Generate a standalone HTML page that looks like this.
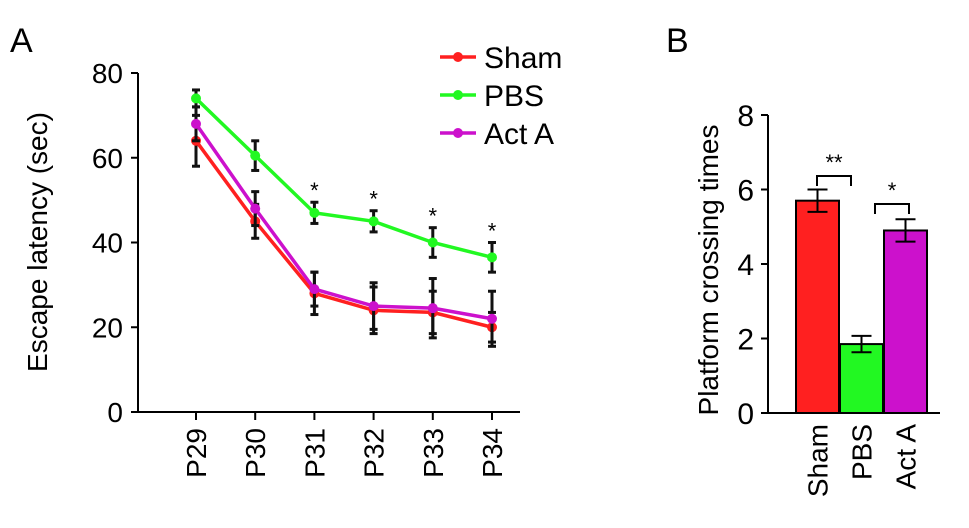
<!DOCTYPE html>
<html><head><meta charset="utf-8"><style>
body{margin:0;background:#fff;}
svg{display:block;font-family:"Liberation Sans",Arial,sans-serif;}
</style></head><body>
<svg id="c" width="969" height="528" viewBox="0 0 969 528">
<text x="10" y="52" font-size="34">A</text>
<text x="666" y="52" font-size="34">B</text>
<g id="ga"></g>
<g id="gb"></g>
</svg>
<script>
const days=["P29","P30","P31","P32","P33","P34"];
const sham=[64,45,28,24,23.5,20];
const shamErr=[6,4,5,5.5,5,3.5];
const pbs=[74,60.5,47,45,40,36.5];
const pbsErr=[2,3.5,2.5,2.5,3.5,3.5];
const act=[68,48,29,25,24.5,22];
const actErr=[4,4,4,5.5,7,6.5];
const yTicksA=[0,20,40,60,80];
const sigA=["","","*","*","*","*"];
const groups=["Sham","PBS","Act A"];
const crossing=[5.7,1.85,4.9];
const crossingErr=[0.3,0.22,0.3];
const yTicksB=[0,2,4,6,8];
const colors=["#ff2020","#22f822","#cc11cc"];
const NS="http://www.w3.org/2000/svg";
function mk(p,t,a,txt){const e=document.createElementNS(NS,t);for(const k in a)e.setAttribute(k,a[k]);if(txt!==undefined)e.textContent=txt;p.appendChild(e);return e;}
const ga=document.getElementById('ga');
const ya=v=>412-v*(339/80);
const xa=i=>196+i*59.2;
let e;
e=mk(ga,'line',{x1:138,y1:73,x2:138,y2:412,stroke:'#000','stroke-width':2});


e=mk(ga,'line',{x1:137,y1:412,x2:520,y2:412,stroke:'#000','stroke-width':2});


yTicksA.forEach(v=>{mk(ga,'line',{x1:131,y1:ya(v),x2:138,y2:ya(v),stroke:'#000','stroke-width':2});
e=mk(ga,'text',{x:123,y:ya(v)+10,'font-size':28,'text-anchor':'end'},v);

});
days.forEach((d,i)=>{mk(ga,'line',{x1:xa(i),y1:412,x2:xa(i),y2:420,stroke:'#000','stroke-width':2});
e=mk(ga,'text',{x:0,y:0,'font-size':28,'text-anchor':'end',transform:`translate(${xa(i)+10},428) rotate(-90)`},d);


if(sigA[i]){e=mk(ga,'text',{x:xa(i),y:ya(pbs[i]+pbsErr[i])-4,'font-size':22,'text-anchor':'middle'},sigA[i]);

}});
e=mk(ga,'text',{x:0,y:0,'font-size':28,'text-anchor':'middle',transform:'translate(47,242) rotate(-90)'},'Escape latency (sec)');


const series=[[sham,shamErr,"Sham"],[pbs,pbsErr,"PBS"],[act,actErr,"Act A"]];
series.forEach(([vals,errs,name],s)=>{
 const g=mk(ga,'g',{});
 
 
 mk(g,'polyline',{points:vals.map((v,i)=>xa(i)+','+ya(v)).join(' '),fill:'none',stroke:colors[s],'stroke-width':3.5});
 vals.forEach((v,i)=>{const x=xa(i);
  mk(g,'line',{x1:x,y1:ya(v-errs[i]),x2:x,y2:ya(v+errs[i]),stroke:'#111','stroke-width':3});
  mk(g,'line',{x1:x-4,y1:ya(v-errs[i]),x2:x+4,y2:ya(v-errs[i]),stroke:'#111','stroke-width':3});
  mk(g,'line',{x1:x-4,y1:ya(v+errs[i]),x2:x+4,y2:ya(v+errs[i]),stroke:'#111','stroke-width':3});
  e=mk(g,'circle',{cx:x,cy:ya(v),r:5,fill:colors[s]});
  
  });
 const ly=57+s*38;
 const lg=mk(ga,'g',{});
 
 
 mk(lg,'line',{x1:440,y1:ly,x2:476,y2:ly,stroke:colors[s],'stroke-width':3.5});
 mk(lg,'circle',{cx:458,cy:ly,r:5,fill:colors[s]});
 mk(lg,'text',{x:484,y:ly+11,'font-size':30},name);
});
const gb=document.getElementById('gb');
const yb=v=>413-v*(298/8);
const bx=[796,840,884],bw=43;
e=mk(gb,'line',{x1:768,y1:115,x2:768,y2:413,stroke:'#000','stroke-width':2});


e=mk(gb,'line',{x1:767,y1:413,x2:940,y2:413,stroke:'#000','stroke-width':2});


yTicksB.forEach(v=>{mk(gb,'line',{x1:761,y1:yb(v),x2:768,y2:yb(v),stroke:'#000','stroke-width':2});
e=mk(gb,'text',{x:754,y:yb(v)+11,'font-size':30,'text-anchor':'end'},v);

});
e=mk(gb,'text',{x:0,y:0,'font-size':28,'text-anchor':'middle',transform:'translate(718,270) rotate(-90)'},'Platform crossing times');


crossing.forEach((v,i)=>{const x=bx[i],cx=x+bw/2;
 e=mk(gb,'rect',{x:x,y:yb(v),width:bw,height:413-yb(v),fill:colors[i],stroke:'#000','stroke-width':2});
 
 
 const t=yb(v+crossingErr[i]),b=yb(v-crossingErr[i]);
 mk(gb,'line',{x1:cx,y1:t,x2:cx,y2:b,stroke:'#000','stroke-width':2});
 mk(gb,'line',{x1:cx-10,y1:t,x2:cx+10,y2:t,stroke:'#000','stroke-width':2});
 mk(gb,'line',{x1:cx-10,y1:b,x2:cx+10,y2:b,stroke:'#000','stroke-width':2});
 e=mk(gb,'text',{x:0,y:0,'font-size':28,'text-anchor':'end',transform:`translate(${cx+10},424) rotate(-90)`},groups[i]);
 
 
});
e=mk(gb,'path',{d:'M817,186 V176 H851 V186',fill:'none',stroke:'#000','stroke-width':2});


mk(gb,'text',{x:834,y:170,'font-size':22,'text-anchor':'middle'},'**');
e=mk(gb,'path',{d:'M875,214 V204 H909 V214',fill:'none',stroke:'#000','stroke-width':2});


mk(gb,'text',{x:892,y:198,'font-size':22,'text-anchor':'middle'},'*');
</script>
</body></html>
